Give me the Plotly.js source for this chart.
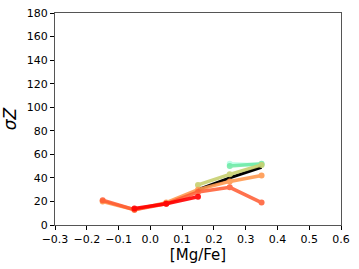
<!DOCTYPE html>
<html><head><meta charset="utf-8">
<script src="https://cdn.plot.ly/plotly-3.0.1.min.js"></script>
<style>body{margin:0;background:#fff}#plot{width:359px;height:269px}</style>
</head><body><div id="plot"></div>
<script>
const xRed = [-0.05, 0.05, 0.15];
const yRed = [14, 18, 24];
const xTomato = [-0.15, -0.05, 0.05, 0.15, 0.25, 0.35];
const yTomato = [21, 13, 18, 28, 32, 19];
const xOrange = [-0.15, -0.05, 0.05, 0.15, 0.25, 0.35];
const yOrange = [20, 13, 19, 30, 37, 42];
const xBlack = [0.15, 0.25, 0.35];
const yBlack = [30, 40, 49];
const xKhaki = [0.15, 0.25, 0.35];
const yKhaki = [34, 43, 51];
const xGreen = [0.25, 0.35];
const yGreen = [50, 52];
const xCyan = [0.25, 0.35];
const yCyan = [52, 51];
const xTicks = [-0.3,-0.2,-0.1,0.0,0.1,0.2,0.3,0.4,0.5,0.6];
const xTickText = ['−0.3','−0.2','−0.1','0.0','0.1','0.2','0.3','0.4','0.5','0.6'];

function tr(x, y, color, op, w, ms) {
  return {x: x, y: y, mode: ms ? 'lines+markers' : 'lines', type: 'scatter', opacity: op,
    line: {color: color, width: w}, marker: {color: color, size: ms || 0}, showlegend: false};
}
const data = [
  tr(xCyan, yCyan, '#7fffd4', 0.5, 3.5, 6),
  tr(xGreen, yGreen, '#66e8a0', 0.8, 3.5, 6),
  tr(xBlack, yBlack, '#000000', 1.0, 3, 0),
  tr(xKhaki, yKhaki, '#c8d070', 0.9, 3.5, 6),
  tr(xOrange, yOrange, '#ff9a50', 0.9, 3.5, 6),
  tr(xTomato, yTomato, '#ff5a30', 0.85, 3.5, 6),
  tr(xRed, yRed, '#ff0000', 0.9, 3.5, 6)
];
const layout = {
  width: 359, height: 269,
  margin: {l: 55, r: 18, t: 13, b: 44},
  paper_bgcolor: '#fff', plot_bgcolor: '#fff',
  font: {family: 'DejaVu Sans', color: '#000'},
  xaxis: {range: [-0.3, 0.6], tickvals: xTicks, ticktext: xTickText,
    ticks: 'outside', ticklen: 4, tickcolor: '#000', showgrid: false, zeroline: false,
    showline: true, linecolor: '#555', linewidth: 1, mirror: true,
    tickfont: {size: 11}, title: {text: '[Mg/Fe]', font: {size: 15}, standoff: 4}},
  yaxis: {range: [0, 180], dtick: 20, ticks: 'outside', ticklen: 4, tickcolor: '#000',
    showgrid: false, zeroline: false, showline: true, linecolor: '#555', linewidth: 1, mirror: true,
    tickfont: {size: 11}, title: {text: '<i>σZ</i>', font: {size: 17}, standoff: 6}}
};
Plotly.newPlot('plot', data, layout, {displayModeBar: false, staticPlot: true});
</script></body></html>
